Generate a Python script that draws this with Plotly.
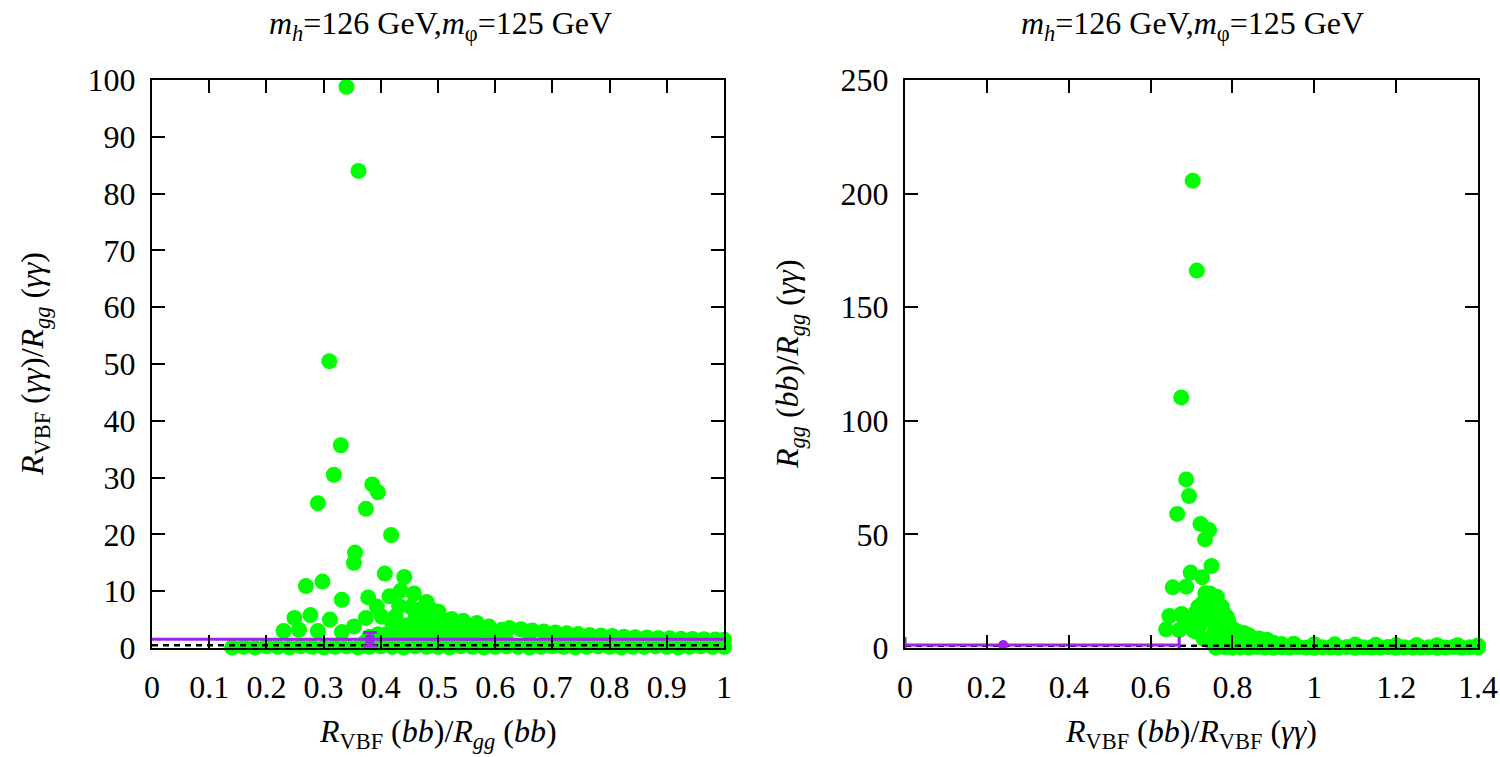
import plotly.graph_objects as go

# ---------------- data ----------------
# Left panel: x = R_VBF(bb)/R_gg(bb), y = R_VBF(gg)/R_gg(gg)
left_scatter_x = [0.340, 0.361, 0.310, 0.330, 0.318, 0.290, 0.385, 0.395, 0.374, 0.418,
                  0.355, 0.353, 0.407, 0.441, 0.269, 0.298, 0.332, 0.378, 0.415, 0.435,
                  0.458, 0.480, 0.432, 0.393, 0.402, 0.374, 0.311, 0.277, 0.249, 0.230,
                  0.257, 0.290, 0.332, 0.353, 0.501, 0.524, 0.544, 0.568, 0.589, 0.380,
                  0.372]
left_scatter_y = [98.8, 84.0, 50.5, 35.7, 30.5, 25.5, 28.8, 27.4, 24.5, 19.9,
                  16.8, 15.0, 13.1, 12.5, 10.9, 11.7, 8.5, 8.9, 9.1, 10.1,
                  9.6, 8.1, 7.4, 7.3, 5.5, 5.3, 5.0, 5.8, 5.3, 3.0,
                  3.2, 3.0, 2.8, 3.8, 6.4, 5.1, 4.8, 4.4, 3.8, 2.0,
                  1.0]
left_dense_x = [0.420, 0.428, 0.445, 0.452, 0.460, 0.466, 0.470, 0.476, 0.484, 0.490,
                0.496, 0.505, 0.512, 0.520, 0.532, 0.540, 0.552, 0.565, 0.578, 0.600,
                0.612, 0.410, 0.395, 0.440, 0.470, 0.500, 0.530, 0.560, 0.590, 0.452,
                0.462, 0.488, 0.426]
left_dense_y = [4.4, 3.0, 4.0, 2.6, 5.0, 3.4, 6.8, 4.4, 2.8, 5.4,
                3.8, 2.6, 4.5, 3.2, 4.1, 2.6, 3.4, 2.8, 3.2, 2.5,
                3.2, 2.4, 2.4, 1.8, 1.6, 1.4, 1.5, 1.4, 1.3, 7.2,
                6.0, 6.8, 5.6]
left_tail_x = [0.625, 0.645, 0.665, 0.685, 0.705, 0.725, 0.745, 0.765, 0.785, 0.805,
               0.825, 0.845, 0.865, 0.885, 0.905, 0.925, 0.945, 0.965, 0.985, 1.000,
               0.620, 0.660, 0.700, 0.740]
left_tail_y = [3.5, 3.3, 3.1, 2.9, 2.75, 2.6, 2.45, 2.3, 2.2, 2.1,
               2.0, 1.9, 1.85, 1.75, 1.7, 1.65, 1.6, 1.55, 1.5, 1.45,
               1.2, 1.1, 1.0, 1.0]
left_floor_x = [0.14, 0.16, 0.18, 0.20, 0.22, 0.24, 0.26, 0.28, 0.30, 0.32,
                0.34, 0.36, 0.38, 0.40, 0.42, 0.44, 0.46, 0.48, 0.50, 0.52,
                0.54, 0.56, 0.58, 0.60, 0.62, 0.64, 0.66, 0.68, 0.70, 0.72,
                0.74, 0.76, 0.78, 0.80, 0.82, 0.84, 0.86, 0.88, 0.90, 0.92,
                0.94, 0.96, 0.98, 1.00]
left_floor_y = [0.1, 0.2, 0.1, 0.3, 0.2, 0.1, 0.3, 0.2, 0.1, 0.2,
                0.3, 0.1, 0.2, 0.3, 0.2, 0.1, 0.3, 0.2, 0.2, 0.1,
                0.3, 0.2, 0.1, 0.2, 0.3, 0.2, 0.1, 0.2, 0.3, 0.2,
                0.1, 0.2, 0.3, 0.2, 0.1, 0.2, 0.2, 0.3, 0.2, 0.1,
                0.2, 0.3, 0.2, 0.2]
left_meas_x = [0.381]
left_meas_y = [1.55]
left_meas_xerr = [1.2]
left_meas_yerr = [1.2]
left_ref_y = 0.5

# Right panel: x = R_VBF(bb)/R_VBF(gg), y = R_gg(bb)/R_gg(gg)
right_scatter_x = [0.703, 0.713, 0.675, 0.687, 0.694, 0.665, 0.722, 0.743, 0.733, 0.749,
                   0.698, 0.726, 0.654, 0.687, 0.734, 0.762, 0.646, 0.676, 0.638, 0.670,
                   0.704, 0.717, 0.737, 0.774, 0.786, 0.794, 0.679, 0.710, 0.781, 0.790,
                   0.804, 0.828, 0.847, 0.884]
right_scatter_y = [205.7, 166.1, 110.3, 74.2, 66.9, 59.0, 54.6, 51.9, 47.8, 36.1,
                   33.2, 31.1, 26.7, 27.0, 24.1, 22.6, 14.1, 15.0, 8.2, 7.9,
                   7.9, 18.2, 13.8, 18.2, 13.8, 9.4, 13.8, 7.2, 14.7, 11.8,
                   8.1, 6.6, 4.4, 3.1]
right_dense_x = [0.700, 0.712, 0.720, 0.728, 0.740, 0.745, 0.752, 0.756, 0.760, 0.766,
                 0.770, 0.775, 0.780, 0.790, 0.798, 0.810, 0.820, 0.835, 0.855, 0.870,
                 0.900, 0.920, 0.950, 0.730, 0.745, 0.758, 0.815, 0.840, 0.865, 0.885]
right_dense_y = [12.0, 16.0, 10.0, 20.0, 17.0, 24.0, 12.0, 7.0, 16.0, 10.0,
                 5.0, 8.0, 3.5, 6.0, 3.0, 4.8, 2.5, 3.6, 2.6, 2.2,
                 2.2, 1.8, 1.5, 4.0, 3.0, 21.0, 7.0, 5.6, 4.2, 3.6]
right_tail_x = [0.90, 0.95, 1.00, 1.05, 1.10, 1.15, 1.20, 1.25, 1.30, 1.35, 1.40]
right_tail_y = [2.2, 1.9, 1.7, 1.6, 1.5, 1.4, 1.3, 1.3, 1.2, 1.2, 1.1]
right_floor_x = [0.76, 0.78, 0.80, 0.82, 0.84, 0.86, 0.88, 0.90, 0.92, 0.94,
                 0.96, 0.98, 1.00, 1.02, 1.04, 1.06, 1.08, 1.10, 1.12, 1.14,
                 1.16, 1.18, 1.20, 1.22, 1.24, 1.26, 1.28, 1.30, 1.32, 1.34,
                 1.36, 1.38, 1.40]
right_floor_y = [0.2, 0.4, 0.1, 0.3, 0.2, 0.4, 0.2, 0.1, 0.3, 0.2,
                 0.4, 0.2, 0.1, 0.3, 0.2, 0.2, 0.4, 0.1, 0.3, 0.2,
                 0.2, 0.4, 0.1, 0.3, 0.2, 0.2, 0.3, 0.1, 0.2, 0.4,
                 0.2, 0.3, 0.2]
right_meas_x = [0.24]
right_meas_y = [1.3]
right_meas_xerr_plus = [0.43]
right_meas_xerr_minus = [0.24]
right_ref_y = 1.0

left_xticks = [0, 0.1, 0.2, 0.3, 0.4, 0.5, 0.6, 0.7, 0.8, 0.9, 1]
left_xlabels = ["0", "0.1", "0.2", "0.3", "0.4", "0.5", "0.6", "0.7", "0.8", "0.9", "1"]
left_yticks = [0, 10, 20, 30, 40, 50, 60, 70, 80, 90, 100]
right_xticks = [0, 0.2, 0.4, 0.6, 0.8, 1.0, 1.2, 1.4]
right_xlabels = ["0", "0.2", "0.4", "0.6", "0.8", "1", "1.2", "1.4"]
right_yticks = [0, 50, 100, 150, 200, 250]

# ---------------- styling ----------------
W, H = 1500, 757
FONT = "Liberation Serif"
GREEN = "#00ff00"
PURPLE = "#a020f0"


def px(x):
    return x / W


def py(y):
    return 1 - y / H


fig = go.Figure()

# green points
fig.add_trace(go.Scatter(
    x=left_floor_x + left_tail_x + left_dense_x + left_scatter_x,
    y=left_floor_y + left_tail_y + left_dense_y + left_scatter_y,
    mode="markers", marker=dict(color=GREEN, size=16, line=dict(width=0)),
    cliponaxis=False, xaxis="x", yaxis="y", showlegend=False))
fig.add_trace(go.Scatter(
    x=right_floor_x + right_tail_x + right_dense_x + right_scatter_x,
    y=right_floor_y + right_tail_y + right_dense_y + right_scatter_y,
    mode="markers", marker=dict(color=GREEN, size=16, line=dict(width=0)),
    cliponaxis=False, xaxis="x2", yaxis="y2", showlegend=False))

# dashed reference lines
fig.add_trace(go.Scatter(x=[left_xticks[0], left_xticks[-1]], y=[left_ref_y, left_ref_y],
                         mode="lines", line=dict(color="black", width=2.5, dash="6px,5px"),
                         xaxis="x", yaxis="y", showlegend=False))
fig.add_trace(go.Scatter(x=[right_xticks[0], right_xticks[-1]], y=[right_ref_y, right_ref_y],
                         mode="lines", line=dict(color="black", width=2.5, dash="6px,5px"),
                         xaxis="x2", yaxis="y2", showlegend=False))

# purple measurements
fig.add_trace(go.Scatter(
    x=left_meas_x, y=left_meas_y, mode="markers",
    marker=dict(color=PURPLE, size=9, symbol="square"),
    error_x=dict(type="data", array=left_meas_xerr, color=PURPLE, thickness=3, width=0),
    error_y=dict(type="data", array=left_meas_yerr, color=PURPLE, thickness=3, width=7),
    xaxis="x", yaxis="y", showlegend=False))
fig.add_trace(go.Scatter(
    x=right_meas_x, y=right_meas_y, mode="markers",
    marker=dict(color=PURPLE, size=10),
    error_x=dict(type="data", array=right_meas_xerr_plus, arrayminus=right_meas_xerr_minus,
                 color=PURPLE, thickness=3, width=8),
    xaxis="x2", yaxis="y2", showlegend=False))

axis_common = dict(showline=True, linecolor="black", linewidth=2, mirror="allticks",
                   ticks="inside", ticklen=13, tickwidth=1.5, tickcolor="black",
                   showgrid=False, zeroline=False, automargin=False,
                   tickfont=dict(family=FONT, size=32, color="black"))

fig.update_layout(
    width=W, height=H, autosize=False,
    font=dict(family=FONT, size=30, color="black"),
    margin=dict(l=0, r=0, t=0, b=0, pad=0, autoexpand=False),
    paper_bgcolor="white", plot_bgcolor="white",
    xaxis=dict(domain=[px(152), px(724)], range=[0, 1], tickvals=left_xticks,
               ticktext=left_xlabels, anchor="y", ticklabelstandoff=10, **axis_common),
    yaxis=dict(domain=[py(648), py(80)], range=[0, 100], tickvals=left_yticks,
               anchor="x", ticklabelstandoff=8, **axis_common),
    xaxis2=dict(domain=[px(905), px(1478)], range=[0, 1.4], tickvals=right_xticks,
                ticktext=right_xlabels, anchor="y2", ticklabelstandoff=10, **axis_common),
    yaxis2=dict(domain=[py(648), py(80)], range=[0, 250], tickvals=right_yticks,
                anchor="x2", ticklabelstandoff=8, **axis_common),
)

tfont = dict(family=FONT, size=32, color="black")
title_txt = "<i>m</i><sub><i>h</i></sub>=126 GeV,<i>m</i><sub>φ</sub>=125 GeV"
annotations = [
    dict(text=title_txt, x=px(440), y=py(25), xref="paper", yref="paper",
         showarrow=False, font=tfont, xanchor="center", yanchor="middle"),
    dict(text=title_txt, x=px(1192), y=py(25), xref="paper", yref="paper",
         showarrow=False, font=tfont, xanchor="center", yanchor="middle"),
    dict(text="<i>R</i><sub>VBF</sub> (<i>bb</i>)/<i>R</i><sub><i>gg</i></sub> (<i>bb</i>)",
         x=px(438), y=py(733), xref="paper", yref="paper", showarrow=False, font=tfont,
         xanchor="center", yanchor="middle"),
    dict(text="<i>R</i><sub>VBF</sub> (<i>bb</i>)/<i>R</i><sub>VBF</sub> (<i>γγ</i>)",
         x=px(1191), y=py(733), xref="paper", yref="paper", showarrow=False, font=tfont,
         xanchor="center", yanchor="middle"),
    dict(text="<i>R</i><sub>VBF</sub> (<i>γγ</i>)/<i>R</i><sub><i>gg</i></sub> (<i>γγ</i>)",
         x=px(35), y=py(364), xref="paper", yref="paper", showarrow=False, font=tfont,
         textangle=-90, xanchor="center", yanchor="middle"),
    dict(text="<i>R</i><sub><i>gg</i></sub> (<i>bb</i>)/<i>R</i><sub><i>gg</i></sub> (<i>γγ</i>)",
         x=px(790), y=py(364), xref="paper", yref="paper", showarrow=False, font=tfont,
         textangle=-90, xanchor="center", yanchor="middle"),
]
fig.update_layout(annotations=annotations)

# remove the browser's default page margin so the figure fills the window exactly
fig.write_html("out.html",
               config={"displayModeBar": False},
               post_script="document.body.style.margin='0';document.body.style.overflow='hidden';")
